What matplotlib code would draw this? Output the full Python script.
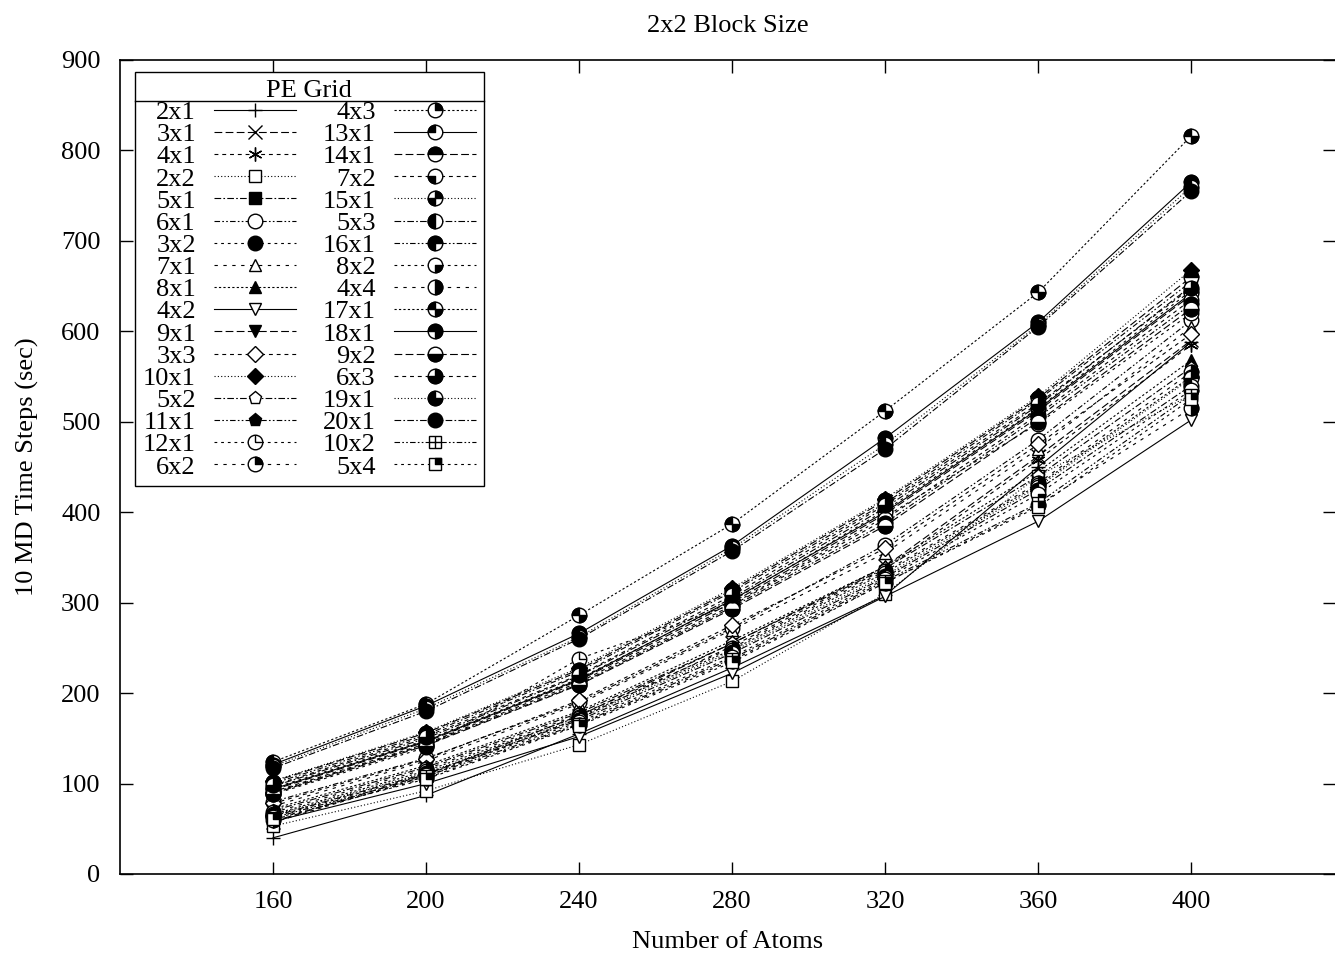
import numpy as np
import matplotlib
matplotlib.use("Agg")
import matplotlib.pyplot as plt
from matplotlib.path import Path
from matplotlib.lines import Line2D

plt.rcParams['font.family'] = ['Liberation Serif', 'DejaVu Serif']

# Number of atoms (x axis)
atoms = [160, 200, 240, 280, 320, 360, 400]

# PE grid labels, in legend order
labels = ["2x1", "3x1", "4x1", "2x2", "5x1", "6x1", "3x2", "7x1", "8x1", "4x2",
          "9x1", "3x3", "10x1", "5x2", "11x1", "12x1", "6x2",
          "4x3", "13x1", "14x1", "7x2", "15x1", "5x3", "16x1", "8x2", "4x4",
          "17x1", "18x1", "9x2", "6x3", "19x1", "20x1", "10x2", "5x4"]

# time for 10 MD steps (sec), one row per PE grid
times = [
    [40, 87, 155, 228, 308, 450, 588],     # 2x1
    [58, 110, 175, 255, 340, 462, 590],    # 3x1
    [57, 108, 172, 252, 337, 458, 585],    # 4x1
    [53, 92, 143, 213, 310, 440, 530],     # 2x2
    [97, 150, 219, 305, 405, 518, 650],    # 5x1
    [80, 128, 190, 272, 364, 480, 612],    # 6x1
    [95, 148, 216, 302, 402, 515, 645],    # 3x2
    [75, 125, 188, 270, 355, 470, 605],    # 7x1
    [72, 120, 180, 258, 340, 445, 568],    # 8x1
    [58, 100, 152, 222, 307, 390, 502],    # 4x2
    [93, 146, 214, 300, 398, 512, 640],    # 9x1
    [78, 127, 192, 275, 360, 475, 597],    # 3x3
    [103, 157, 228, 316, 415, 528, 668],   # 10x1
    [70, 118, 178, 255, 338, 440, 560],    # 5x2
    [100, 154, 224, 312, 410, 524, 655],   # 11x1
    [88, 140, 238, 298, 395, 498, 620],    # 12x1
    [68, 116, 176, 250, 335, 432, 555],    # 6x2
    [66, 114, 174, 248, 333, 430, 550],    # 4x3
    [94, 147, 215, 303, 400, 514, 642],    # 13x1
    [102, 156, 226, 314, 413, 526, 660],   # 14x1
    [91, 144, 212, 297, 392, 508, 635],    # 7x2
    [65, 112, 172, 246, 330, 428, 548],    # 15x1
    [64, 111, 170, 244, 328, 425, 540],    # 5x3
    [90, 143, 210, 295, 388, 505, 630],    # 16x1
    [63, 110, 168, 240, 326, 420, 535],    # 8x2
    [60, 106, 165, 236, 322, 408, 515],    # 4x4
    [124, 188, 286, 387, 512, 643, 816],   # 17x1
    [121, 186, 266, 363, 482, 610, 765],   # 18x1
    [89, 142, 209, 293, 385, 500, 625],    # 9x2
    [98, 152, 220, 308, 408, 520, 648],    # 6x3
    [119, 183, 262, 360, 475, 607, 760],   # 19x1
    [117, 180, 260, 357, 470, 605, 755],   # 20x1
    [62, 108, 166, 238, 324, 410, 530],    # 10x2
    [61, 105, 164, 234, 322, 406, 525],    # 5x4
]

# gnuplot-like dash cycle (period 9)
dashes = ['-', (0, (7, 3)), (0, (3.5, 3.5)), (0, (1, 2)), (0, (6, 2, 1.5, 2)),
          (0, (5, 2, 1.5, 2, 1.5, 2)), (0, (2.5, 3.5)), (0, (3, 5)), (0, (2, 2))]


def wedges(*spans):
    return Path.make_compound_path(*[Path.wedge(a, b) for a, b in spans])


clock = Path([(0, 0), (0, 1), (0, 0), (1, 0)],
             [Path.MOVETO, Path.LINETO, Path.MOVETO, Path.LINETO])
sq_lines = Path([(0, -1), (0, 1), (-1, 0), (1, 0)],
                [Path.MOVETO, Path.LINETO, Path.MOVETO, Path.LINETO])
sq_quad = Path([(0, 0), (1, 0), (1, 1), (0, 1), (0, 0)],
               [Path.MOVETO, Path.LINETO, Path.LINETO, Path.LINETO, Path.CLOSEPOLY])

# base marker, filled?, overlay path
base = ['+', 'x', (6, 2, 0), 's', 's', 'o', 'o', '^', '^', 'v', 'v', 'D', 'D',
        'p', 'p'] + ['o'] * 17 + ['s', 's']
base_fill = [False, False, False, False, True, False, True, False, True, False,
             True, False, True, False, True] + [False] * 16 + [True] + [False, False]
overlay = [None] * 15 + [
    clock,                          # 12x1
    wedges((0, 90)),                # 6x2
    wedges((0, 90)),                # 4x3
    wedges((90, 180)),              # 13x1
    wedges((0, 180)),               # 14x1
    wedges((180, 270)),             # 7x2
    wedges((0, 90), (180, 270)),    # 15x1
    wedges((90, 270)),              # 5x3
    wedges((0, 270)),               # 16x1
    wedges((270, 360)),             # 8x2
    wedges((-90, 90)),              # 4x4
    wedges((90, 180), (270, 360)),  # 17x1
    wedges((-90, 180)),             # 18x1
    wedges((180, 360)),             # 9x2
    wedges((180, 450)),             # 6x3
    wedges((90, 360)),              # 19x1
    None,                           # 20x1
    sq_lines,                       # 10x2
    sq_quad,                        # 5x4
]

fig = plt.figure(figsize=(13.35, 9.56), dpi=100)
ax = fig.add_axes([120 / 1335, 82 / 956, 1215 / 1335, 814 / 956])

handles = []
for i, (lab, y) in enumerate(zip(labels, times)):
    m = base[i]
    ms = {'o': 10.5, 's': 8.5, 'D': 8, 'p': 9.5, '^': 9, 'v': 9}.get(m, 10)
    line, = ax.plot(atoms, y, color='black', lw=0.8, ls=dashes[i % 9],
                    marker=m, ms=ms, mec='black', mew=1.0,
                    mfc='black' if base_fill[i] else 'white', label=lab)
    h = line
    ov = overlay[i]
    if ov is not None:
        filled = ov is not clock and ov is not sq_lines
        top, = ax.plot(atoms, y, ls='none', marker=ov, ms=ms, mew=1.0,
                       mec='black', mfc='black' if filled else 'none')
        h = (line, top)
    handles.append(h)

ax.set_xlim(120, 437.6)
ax.set_ylim(0, 900)
ax.set_xticks(atoms)
ax.set_yticks(range(0, 901, 100))
ax.tick_params(direction='in', length=9, width=1, top=True, right=True,
               labelsize=19)
ax.tick_params(axis='x', pad=12)
ax.tick_params(axis='y', pad=14)
for s in ax.spines.values():
    s.set_linewidth(1.2)
ax.spines['right'].set_visible(False)

ax.set_title("2x2 Block Size", fontsize=19, pad=20)
ax.set_xlabel("Number of Atoms", fontsize=19, labelpad=13)
ax.set_ylabel("10 MD Time Steps (sec)", fontsize=19, labelpad=16)

leg = ax.legend(handles, labels, ncol=2, loc='upper left',
                bbox_to_anchor=(15 / 1215, (874 - 72) / 814), borderaxespad=0,
                markerfirst=False, fontsize=19, title="PE Grid", title_fontsize=19,
                handlelength=3.1, handletextpad=0.7, labelspacing=-0.05,
                columnspacing=1.0, borderpad=0.3, fancybox=False,
                framealpha=1, edgecolor='black')
leg.get_frame().set_linewidth(1.0)

# line under the key title, like gnuplot
fig.canvas.draw()
bb = leg.get_window_extent()
tb = leg.get_title().get_window_extent()
yl = tb.y0 + 1
inv = fig.transFigure.inverted()
(x0, y0), (x1, _) = inv.transform([(bb.x0, yl), (bb.x1, yl)])
fig.add_artist(Line2D([x0, x1], [y0, y0], transform=fig.transFigure,
                      color='black', lw=1.0))

fig.savefig("out.png", dpi=100)
